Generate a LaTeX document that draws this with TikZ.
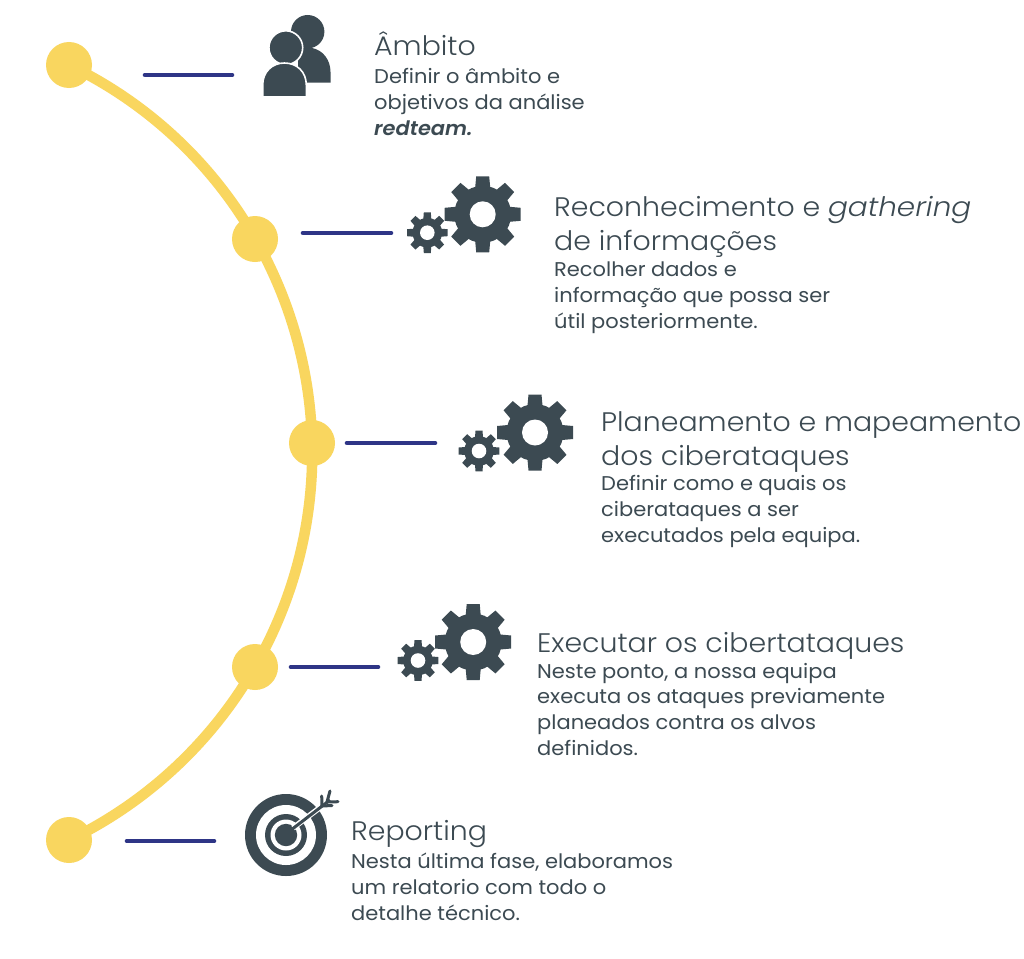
\documentclass[tikz,border=0pt]{standalone}
\usepackage{fontspec}
\newfontfamily\headfont{Poppins}[UprightFont=* Light,ItalicFont=* Light Italic,FakeStretch=1.06,ItalicFeatures={FakeStretch=1.1}]
\newfontfamily\bodyfont{Poppins}[BoldFont=* SemiBold,BoldItalicFont=* SemiBold Italic,FakeStretch=1.055]
\setmainfont{Poppins}
\definecolor{trackyellow}{HTML}{F9D65F}
\definecolor{barnavy}{HTML}{2E3586}
\definecolor{inkdark}{HTML}{3C4A52}
\newcommand{\gearshape}[7]{% name x y outer root hole toothw
  \begin{scope}[shift={(#2,#3)}]
    \fill[inkdark] (0,0) circle[radius=#5];
    \foreach \a in {0,45,...,315}{
      \fill[inkdark,rotate=\a] (#5-2,-#7*0.58) -- (#4,-#7*0.5) -- (#4,#7*0.5) -- (#5-2,#7*0.58) -- cycle;
    }
    \fill[white] (0,0) circle[radius=#6];
    \coordinate (#1) at (0,0);
  \end{scope}}
\tikzset{
  track/.style={draw=trackyellow,line width=10.5pt},
  dot/.style={circle,fill=trackyellow,minimum size=46pt,inner sep=0pt},
  bar/.style={draw=barnavy,line width=4.6pt,line cap=round},
  headtext/.style={anchor=base west,inner sep=0pt,align=left,text=inkdark,font=\headfont\fontsize{26.8}{34}\selectfont},
  bodytext/.style={anchor=base west,inner sep=0pt,align=left,text=inkdark,font=\bodyfont\fontsize{19.9}{25.6}\selectfont},
}
\begin{document}
\begin{tikzpicture}[x=1pt,y=-1pt]
\useasboundingbox (0,0) rectangle (1024,958);
\fill[white] (0,0) rectangle (1024,958);
\coordinate (n1pos) at (69,65);
\draw[track] (n1pos) arc[start angle=-64.2,end angle=64.2,radius=430.5];
\node[dot] (n1) at (69,65) {};
\node[dot] (n2) at (255,239) {};
\node[dot] (n3) at (312,443) {};
\node[dot] (n4) at (255,667) {};
\node[dot] (n5) at (69,840) {};
% bars
\coordinate (b1a) at (145,75); \coordinate (b1b) at (232,75);
\coordinate (b2a) at (303,233); \coordinate (b2b) at (391,233);
\coordinate (b3a) at (347,443); \coordinate (b3b) at (435,443);
\coordinate (b4a) at (291,667); \coordinate (b4b) at (378,667);
\coordinate (b5a) at (127,841); \coordinate (b5b) at (214,841);
\draw[bar] (b1a) -- (b1b);
\draw[bar] (b2a) -- (b2b);
\draw[bar] (b3a) -- (b3b);
\draw[bar] (b4a) -- (b4b);
\draw[bar] (b5a) -- (b5b);
% people icon
\fill[inkdark] (307.7,31.7) circle[radius=16.7];
\fill[inkdark] (298,82.7) -- (298,48) -- (312,48) .. controls (323,50) and (330.5,60) .. (330.5,72) -- (330.5,82.7) -- cycle;
\fill[inkdark,draw=white,line width=1.6pt] (285.8,47.7) circle[radius=16.9];
\fill[inkdark,draw=white,line width=1.6pt] (262.7,97) -- (262.7,85) .. controls (262.7,72) and (272,63) .. (284.4,63) .. controls (297,63) and (306.3,72) .. (306.3,85) -- (306.3,97) -- cycle;
% gears
\gearshape{g2b}{482.7}{214.3}{38}{28.5}{13}{13}
\gearshape{g2s}{427.3}{232.7}{20.3}{14.8}{7.3}{7}
\gearshape{g3b}{535}{432.5}{38}{28.5}{13}{13}
\gearshape{g3s}{479}{451}{20.3}{14.8}{7.3}{7}
\gearshape{g4b}{473.2}{642}{38}{28.5}{13}{13}
\gearshape{g4s}{418}{660.5}{20.3}{14.8}{7.3}{7}
% target
\fill[inkdark] (286,835) circle[radius=41];
\fill[white] (286,835) circle[radius=30];
\fill[inkdark] (286,835) circle[radius=21];
\fill[white] (286,835) circle[radius=15.5];
\fill[inkdark] (286,835) circle[radius=11.2];
\draw[white,line width=5.5pt] (293,828) -- (322,806);
\draw[inkdark,line width=3pt] (291,830) -- (330,800);
\draw[inkdark,line width=3pt,line cap=round] (322,806) -- (321.7,796) (327,802) -- (330,791);
\draw[inkdark,line width=3pt,line cap=round] (322,806) -- (332,805.5) (327,802) -- (338,801.7);
% texts
\node[headtext] (t1) at (374,56) {Âmbito};
\node[bodytext] (d1) at (374,135) {Definir o âmbito e\\objetivos da análise\\\textbf{\textit{redteam.}}};
\node[headtext] (t2) at (554,250) {Reconhecimento e \textit{gathering}\\de informações};
\node[bodytext] (d2) at (554,328) {Recolher dados e\\informação que possa ser\\útil posteriormente.};
\node[headtext] (t3) at (601,465) {Planeamento e mapeamento\\dos ciberataques};
\node[bodytext] (d3) at (601,542) {Definir como e quais os\\ciberataques a ser\\executados pela equipa.};
\node[headtext] (t4) at (537,652) {Executar os cibertataques};
\node[bodytext] (d4) at (537,755) {Neste ponto, a nossa equipa\\executa os ataques previamente\\planeados contra os alvos\\definidos.};
\node[headtext] (t5) at (351,840) {Reporting};
\node[bodytext] (d5) at (351,920) {Nesta última fase, elaboramos\\um relatorio com todo o\\detalhe técnico.};
\end{tikzpicture}
\end{document}
